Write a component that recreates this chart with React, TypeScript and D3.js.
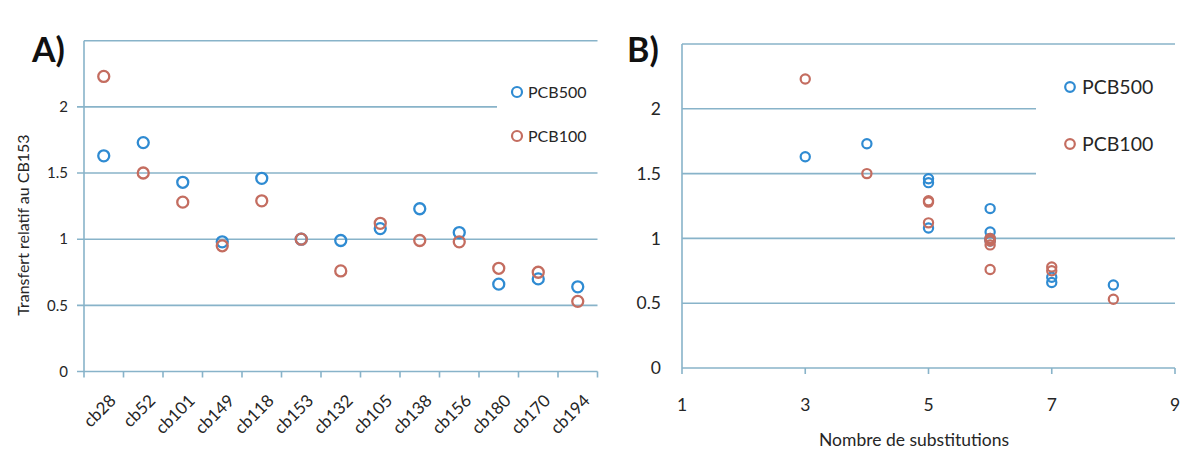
import React from 'react';
import * as d3 from 'd3';

const categories = ['cb28', 'cb52', 'cb101', 'cb149', 'cb118', 'cb153', 'cb132', 'cb105', 'cb138', 'cb156', 'cb180', 'cb170', 'cb194'];
const pcb500 = [1.63, 1.73, 1.43, 0.98, 1.46, 1.0, 0.99, 1.08, 1.23, 1.05, 0.66, 0.7, 0.64];
const pcb100 = [2.23, 1.5, 1.28, 0.95, 1.29, 1.0, 0.76, 1.12, 0.99, 0.98, 0.78, 0.75, 0.53];
const substitutions = [3, 4, 5, 6, 5, 6, 6, 5, 6, 6, 7, 7, 8];
const gridValues = [0, 0.5, 1, 1.5, 2, 2.5];
const yTickLabels = [0, 0.5, 1, 1.5, 2];
const xTicksB = [1, 3, 5, 7, 9];
const seriesNames = ['PCB500', 'PCB100'];

const BLUE = '#2f8bd2';
const RED = '#c46d60';
const GRID = '#88b3c9';
const TEXT = '#262626';
const FONT = 'Lato, "Open Sans", sans-serif';

export default function App() {
  // Panel A scales
  const xA = d3.scaleBand<string>().domain(categories).range([84, 597.5]);
  const yA = d3.scaleLinear().domain([0, 2.5]).range([371.5, 40.7]);
  // Panel B scales
  const xB = d3.scaleLinear().domain([1, 9]).range([682, 1175]);
  const yB = d3.scaleLinear().domain([0, 2.5]).range([368, 44]);

  const fmt = (v: number) => d3.format('')(v);
  const bandTicks = categories.map((c) => xA(c) as number).concat([xA.range()[1]]);

  const series = [
    { name: seriesNames[0], values: pcb500, color: BLUE },
    { name: seriesNames[1], values: pcb100, color: RED },
  ];

  return (
    <svg width={1181} height={452} style={{ position: 'absolute', left: 0, top: 0, background: '#fff' }} fontFamily={FONT}>
      <rect width={1181} height={452} fill="#fff" />
      {/* ---------- Panel A ---------- */}
      <g>
        {gridValues.map((v) => (
          <line key={v} x1={v === 2.5 ? 84 : 77} x2={597.5} y1={yA(v)} y2={yA(v)} stroke={GRID} strokeWidth={1.6} />
        ))}
        <line x1={84} x2={84} y1={yA(2.5)} y2={yA(0)} stroke={GRID} strokeWidth={1.6} />
        {bandTicks.map((t, i) => (
          <line key={i} x1={t} x2={t} y1={yA(0)} y2={yA(0) + 6} stroke={GRID} strokeWidth={1.6} />
        ))}
        {yTickLabels.map((v) => (
          <text key={v} x={68} y={yA(v)} dy="0.35em" textAnchor="end" fontSize={15} fill={TEXT}>
            {fmt(v)}
          </text>
        ))}
        {categories.map((c) => {
          const cx = (xA(c) as number) + xA.bandwidth() / 2;
          return (
            <text key={c} transform={`translate(${cx + 9},${yA(0) + 26}) rotate(-45)`} textAnchor="end" dy="0.35em" fontSize={17} fill={TEXT}>
              {c}
            </text>
          );
        })}
        <text transform={`translate(23,225) rotate(-90)`} textAnchor="middle" dy="0.35em" fontSize={16} fill={TEXT}>
          Transfert relatif au CB153
        </text>
        <text x={32} y={62} fontSize={34} fontWeight={700} fill="#111">A)</text>
        {/* legend */}
        <rect x={497} y={62} width={101} height={95} fill="#fff" />
        {series.map((s, i) => (
          <g key={s.name}>
            <circle cx={517} cy={92 + i * 44} r={5} fill="none" stroke={s.color} strokeWidth={2.2} />
            <text x={528} y={92 + i * 44} dy="0.35em" fontSize={16} fill={TEXT}>{s.name}</text>
          </g>
        ))}
        {series.map((s) => (
          <g key={s.name}>
            {s.values.map((v, i) => (
              <circle key={i} cx={(xA(categories[i]) as number) + xA.bandwidth() / 2} cy={yA(v)} r={5.5} fill="none" stroke={s.color} strokeWidth={2.3} />
            ))}
          </g>
        ))}
      </g>

      {/* ---------- Panel B ---------- */}
      <g>
        {gridValues.map((v) => (
          <line key={v} x1={682} x2={1175} y1={yB(v)} y2={yB(v)} stroke={GRID} strokeWidth={1.6} />
        ))}
        <line x1={682} x2={682} y1={yB(2.5)} y2={yB(0)} stroke={GRID} strokeWidth={1.6} />
        {xTicksB.map((t) => (
          <line key={t} x1={xB(t)} x2={xB(t)} y1={yB(0)} y2={yB(0) + 6} stroke={GRID} strokeWidth={1.6} />
        ))}
        {yTickLabels.map((v) => (
          <text key={v} x={661} y={yB(v)} dy="0.35em" textAnchor="end" fontSize={17.5} fill={TEXT}>
            {fmt(v)}
          </text>
        ))}
        {xTicksB.map((t) => (
          <text key={t} x={xB(t)} y={411} textAnchor="middle" fontSize={17.5} fill={TEXT}>{t}</text>
        ))}
        <text x={914} y={446} textAnchor="middle" fontSize={17.5} fill={TEXT}>Nombre de substitutions</text>
        <text x={627} y={62} fontSize={34} fontWeight={700} fill="#111">B)</text>
        {/* legend */}
        <rect x={1036} y={60} width={145} height={140} fill="#fff" />
        {series.map((s, i) => (
          <g key={s.name}>
            <circle cx={1070} cy={87 + i * 57} r={4.8} fill="none" stroke={s.color} strokeWidth={2.2} />
            <text x={1082} y={87 + i * 57} dy="0.35em" fontSize={19.5} fill={TEXT}>{s.name}</text>
          </g>
        ))}
        {series.map((s) => (
          <g key={s.name}>
            {s.values.map((v, i) => (
              <circle key={i} cx={xB(substitutions[i])} cy={yB(v)} r={4.6} fill="none" stroke={s.color} strokeWidth={2.2} />
            ))}
          </g>
        ))}
      </g>
    </svg>
  );
}
